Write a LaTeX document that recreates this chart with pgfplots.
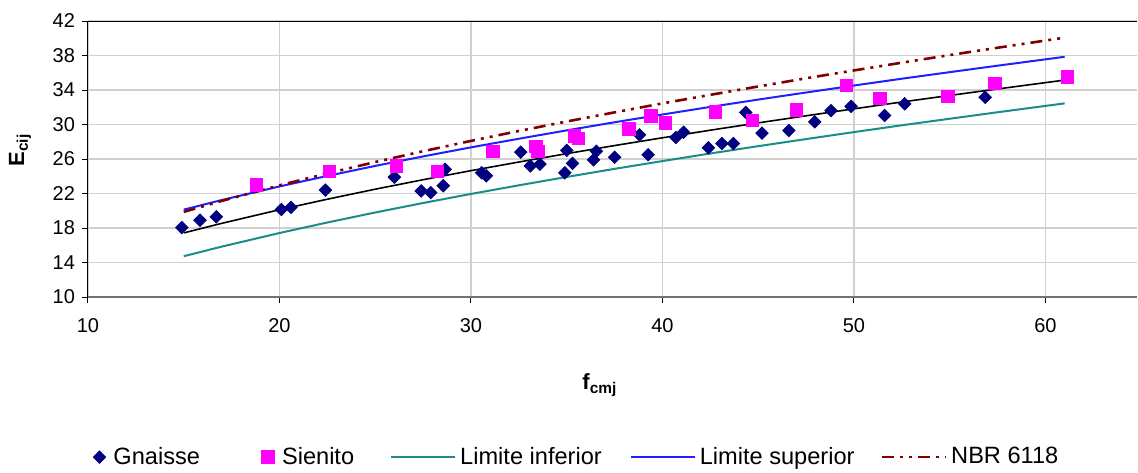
\documentclass[border=0pt]{standalone}
\usepackage{fontspec}
\setmainfont{Liberation Sans}
\usepackage{pgfplots}
\pgfplotsset{compat=1.18}
\definecolor{gnaisse}{HTML}{000080}
\definecolor{sienito}{HTML}{FF00FF}
\definecolor{inferior}{HTML}{1A8C8C}
\definecolor{superior}{HTML}{1F1FFF}
\definecolor{nbr}{HTML}{800000}
\definecolor{gridc}{HTML}{D0D0D0}
\pgfplotsset{
  markleg/.style={legend image code/.code={\path[draw=none,fill=none] (-5pt,0pt) -- (5pt,0pt); \draw[##1] plot coordinates {(0pt,0pt)};}},
  lineleg/.style={legend image code/.code={\draw[##1] (0pt,0pt) -- (32pt,0pt);}},
}
\begin{document}
\begin{tikzpicture}
\path[use as bounding box] (-44pt,-87.5pt) rectangle (525pt,148.5pt);
\begin{axis}[
  scale only axis, width=524.5pt, height=138pt,
  xmin=10, xmax=64.78, ymin=10, ymax=42,
  xtick={10,20,...,60}, ytick={10,14,...,42},
  axis x line*=bottom, axis y line*=left, axis line style={-},
  x axis line style={draw=black!55, line width=1pt},
  y axis line style={draw=black, line width=0.5pt},
  tick align=outside, major tick length=3pt,
  tick style={black, line width=0.5pt},
  grid=major, major grid style={gridc, line width=0.7pt},
  /pgf/number format/assume math mode=true,
  ticklabel style={font=\fontsize{10}{12}\selectfont},
  xticklabel style={yshift=-4pt},
  xlabel={\textbf{f\textsubscript{cmj}}},
  ylabel={\textbf{E\textsubscript{cij}}},
  every axis x label/.style={at={(rel axis cs:0.488,0)}, anchor=center, yshift=-44pt, font=\fontsize{11}{13}\selectfont},
  every axis y label/.style={at={(rel axis cs:-0.0648,0.533)}, rotate=90, anchor=center, font=\fontsize{11}{13}\selectfont},
  legend columns=5,
  legend cell align=left,
  legend style={at={(rel axis cs:0.001,-0.58)}, anchor=west, draw=none, fill=none, inner sep=0pt,
    font=\fontsize{11.8}{13}\selectfont,
    /tikz/column 2/.style={column sep=27pt},
    /tikz/column 4/.style={column sep=16pt},
    /tikz/column 6/.style={column sep=12pt},
    /tikz/column 8/.style={column sep=11pt}},
]
% legend
\addlegendimage{only marks, mark=square*, mark size=2.2pt, color=gnaisse, mark options={rotate=45}, markleg}
\addlegendentry{Gnaisse}
\addlegendimage{only marks, mark=square*, mark size=3.1pt, color=sienito, markleg}
\addlegendentry{Sienito}
\addlegendimage{inferior, line width=1pt, lineleg}
\addlegendentry{Limite inferior}
\addlegendimage{superior, line width=1pt, lineleg}
\addlegendentry{Limite superior}
\addlegendimage{nbr, line width=1.3pt, dash pattern=on 6pt off 3pt on 1.5pt off 3pt on 1.5pt off 3pt, lineleg}
\addlegendentry{NBR 6118}

% lines
\addplot[forget plot, inferior, line width=1pt] coordinates {
(15,14.73)(17,15.85)(20,17.42)(22.5,18.64)(25,19.80)(27.5,20.90)(30,21.95)(32.5,22.95)(35,23.92)(37.5,24.86)(40,25.76)(42.5,26.64)(45,27.49)(47.5,28.31)(50,29.12)(52.5,29.91)(55,30.67)(57.5,31.42)(61,32.45)};
\addplot[forget plot, superior, line width=1pt] coordinates {
(15,20.13)(17,21.25)(20,22.82)(22.5,24.04)(25,25.20)(27.5,26.30)(30,27.35)(32.5,28.35)(35,29.32)(37.5,30.26)(40,31.16)(42.5,32.04)(45,32.89)(47.5,33.71)(50,34.52)(52.5,35.31)(55,36.07)(57.5,36.82)(61,37.85)};
\addplot[forget plot, black, line width=0.8pt] coordinates {
(15,17.43)(17,18.55)(20,20.12)(22.5,21.34)(25,22.50)(27.5,23.60)(30,24.65)(32.5,25.65)(35,26.62)(37.5,27.56)(40,28.46)(42.5,29.34)(45,30.19)(47.5,31.01)(50,31.82)(52.5,32.61)(55,33.37)(57.5,34.12)(61,35.15)};
\addplot[forget plot, nbr, line width=1.3pt, dash pattern=on 6pt off 3pt on 1.5pt off 3pt on 1.5pt off 3pt] coordinates {
(15,19.87)(17,21.15)(20,22.94)(22.5,24.33)(25,25.65)(27.5,26.90)(30,28.10)(32.5,29.25)(35,30.35)(37.5,31.41)(40,32.45)(42.5,33.44)(45,34.41)(47.5,35.36)(50,36.27)(52.5,37.17)(55,38.05)(57.5,38.90)(61,40.07)};

% points
\addplot[forget plot, only marks, mark=square*, mark size=2.2pt, color=gnaisse, mark options={rotate=45}] coordinates {
(14.9,18.05)(15.85,18.9)(16.7,19.3)(20.1,20.15)(20.6,20.4)(22.4,22.4)(26.0,23.9)(27.4,22.3)(27.9,22.1)
(28.55,22.9)(28.65,24.8)(30.56,24.4)(30.8,24.05)(32.6,26.8)(33.1,25.2)(33.6,25.4)(34.9,24.4)(35.0,27.0)
(35.3,25.5)(36.4,25.9)(36.55,26.9)(37.5,26.2)(38.8,28.8)(39.25,26.5)(40.7,28.5)(41.1,29.1)(42.4,27.3)
(43.1,27.8)(43.7,27.8)(44.35,31.4)(45.2,29.0)(46.6,29.3)(47.95,30.3)(48.8,31.6)(49.85,32.1)(51.6,31.05)
(52.65,32.4)(56.85,33.15)};
\addplot[forget plot, only marks, mark=square*, mark size=3.1pt, color=sienito] coordinates {
(18.8,23.0)(22.6,24.55)(26.1,25.2)(28.25,24.55)(31.15,26.9)(33.4,27.45)(33.5,26.9)(35.4,28.7)(35.6,28.4)
(38.25,29.5)(39.4,31.0)(40.15,30.2)(42.75,31.45)(44.7,30.5)(47.0,31.7)(49.6,34.5)(51.35,33.0)(54.9,33.25)
(57.35,34.8)(61.15,35.5)};
\draw[black, line width=0.5pt] (rel axis cs:0,1) -- (rel axis cs:1,1);
\end{axis}
\end{tikzpicture}
\end{document}
